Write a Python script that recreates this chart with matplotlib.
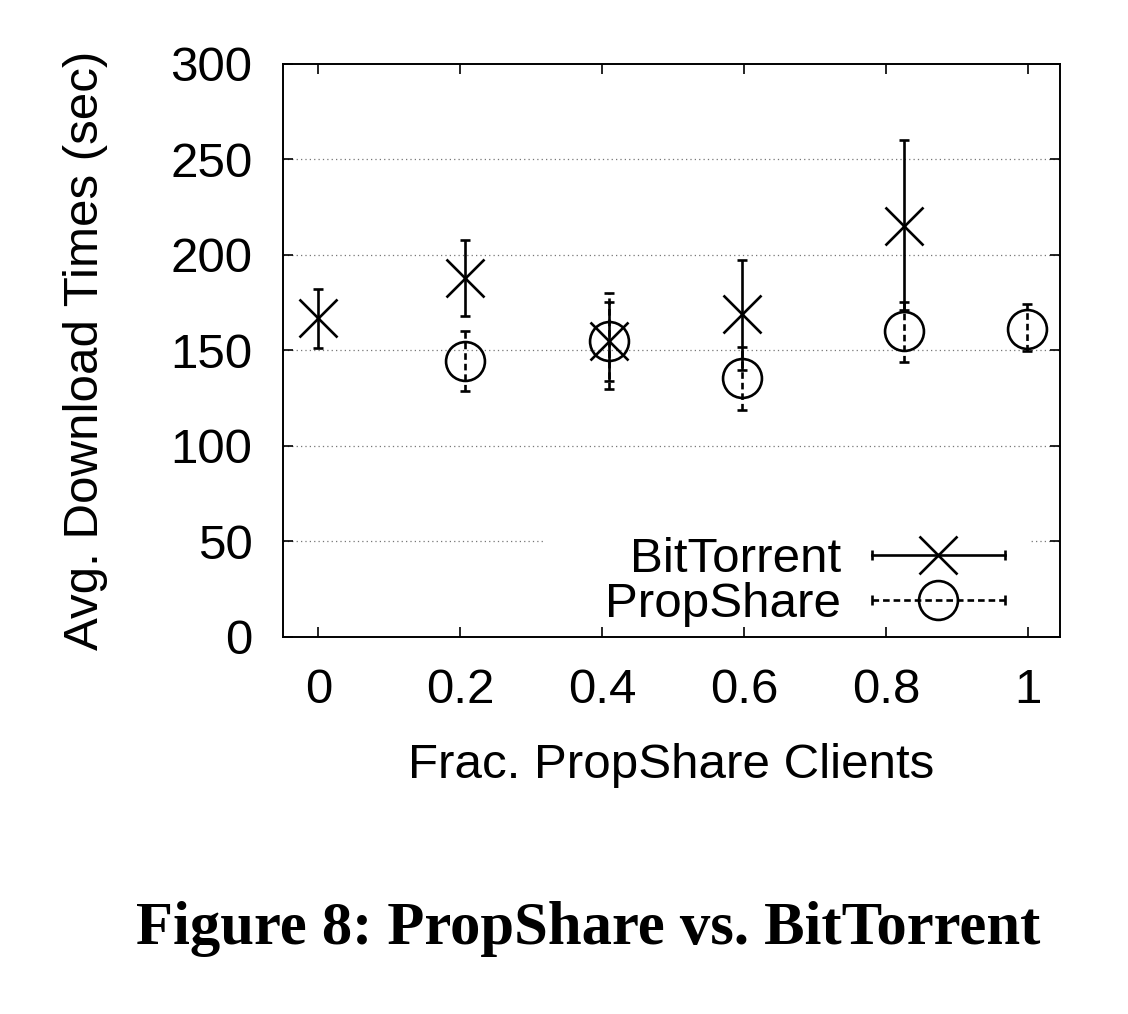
import numpy as np
import matplotlib
matplotlib.use('Agg')
import matplotlib.pyplot as plt
from matplotlib.lines import Line2D
from matplotlib.patches import Rectangle
from matplotlib.legend_handler import HandlerLine2D, HandlerTuple

# data
bt_x = [0.0, 0.207, 0.41, 0.597, 0.825]
bt_y = [167, 188, 155, 169, 215]
bt_lo = [151.5, 168, 134, 140, 171]
bt_hi = [182, 208, 175.5, 197.5, 260]

ps_x = [0.207, 0.41, 0.597, 0.825, 0.999]
ps_y = [144.5, 155, 135.5, 160, 161.5]
ps_lo = [129, 130, 119, 144, 149.5]
ps_hi = [160, 180, 152, 175.5, 174.5]

xticks = [0, 0.2, 0.4, 0.6, 0.8, 1]
xticklabels = ['0', '0.2', '0.4', '0.6', '0.8', '1']
yticks = [0, 50, 100, 150, 200, 250, 300]

plt.rcParams['font.family'] = ['Liberation Sans', 'DejaVu Sans']

fig = plt.figure(figsize=(11.28, 10.14), dpi=100)
ax = fig.add_axes([0.2509, 0.3718, 0.6888, 0.5651])

lw = 1.9
ms = 28
fs = 35.5

bt_err = [np.array(bt_y) - np.array(bt_lo), np.array(bt_hi) - np.array(bt_y)]
ps_err = [np.array(ps_y) - np.array(ps_lo), np.array(ps_hi) - np.array(ps_y)]

eb1 = ax.errorbar(bt_x, bt_y, yerr=bt_err, fmt='x', color='black', ms=ms,
                  mew=lw, elinewidth=lw, capsize=3.6, capthick=lw, zorder=3)
eb2 = ax.errorbar(ps_x, ps_y, yerr=ps_err, fmt='o', color='black', ms=ms,
                  mfc='none', mew=lw, elinewidth=lw, capsize=3.6, capthick=lw,
                  zorder=3)
eb2[2][0].set_linestyle((0, (2.5, 1.5)))

ax.set_xlim(-0.05, 1.045)
ax.set_ylim(0, 300)
ax.set_xticks(xticks)
ax.set_xticklabels(xticklabels)
ax.set_yticks(yticks)
ax.tick_params(direction='in', length=7, width=1.2, labelsize=fs,
               top=True, right=True, pad=22)
ax.tick_params(axis='y', pad=22)
for s in ax.spines.values():
    s.set_linewidth(1.4)
ax.set_axisbelow(False)

# dotted horizontal grid, kept under the key box
for yv in yticks[1:-1]:
    ax.axhline(yv, color='#777777', linestyle=(0, (1, 2.5)), linewidth=0.9,
               zorder=0.6)
# white key area that breaks the grid line, like gnuplot does
ax.add_patch(Rectangle((0.337, 0.025), 0.624, 0.18, transform=ax.transAxes,
                       fc='white', ec='none', zorder=0.8))

ax.set_xlabel('Frac. PropShare Clients', fontsize=fs, labelpad=22)
ax.set_ylabel('Avg. Download Times (sec)', fontsize=fs, labelpad=45)

# gnuplot-style legend keys: line with end caps and a marker in the middle
bt_caps = Line2D([], [], color='black', lw=lw, marker='|', ms=7, mew=lw)
bt_mark = Line2D([], [], color='black', ls='none', marker='x', ms=ms, mew=lw)
ps_caps = Line2D([], [], color='black', lw=lw, ls=(0, (2.5, 1.5)), marker='|',
                 ms=7, mew=lw)
ps_mark = Line2D([], [], color='black', ls='none', marker='o', ms=ms,
                 mfc='none', mew=lw)
hmap = {bt_caps: HandlerLine2D(numpoints=2), ps_caps: HandlerLine2D(numpoints=2),
        bt_mark: HandlerLine2D(numpoints=1), ps_mark: HandlerLine2D(numpoints=1),
        tuple: HandlerTuple(ndivide=1)}
leg = ax.legend([(bt_caps, bt_mark), (ps_caps, ps_mark)],
                ['BitTorrent', 'PropShare'], handler_map=hmap,
                loc='lower right', bbox_to_anchor=(0.967, -0.009),
                borderaxespad=0, fontsize=fs, markerfirst=False,
                handlelength=3.3, handletextpad=0.32, labelspacing=0.0,
                borderpad=0.3, frameon=False)
leg._legend_box.align = 'right'

fig.text(0.5217, 0.069, 'Figure 8: PropShare vs. BitTorrent', ha='center',
         va='baseline', fontsize=43.7, fontweight='bold',
         family=['Liberation Serif', 'DejaVu Serif'])

fig.savefig('out.png', dpi=100)
